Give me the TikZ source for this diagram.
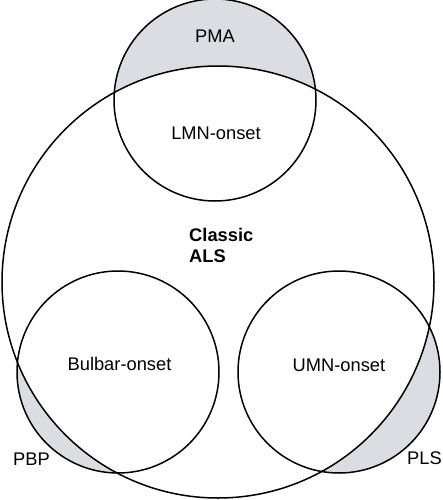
\documentclass[tikz,border=0pt]{standalone}
\usepackage{fontspec}
\setmainfont{Liberation Sans}
\definecolor{venngray}{RGB}{220,221,226}
\begin{document}
\begin{tikzpicture}[x=1pt,y=-1pt,
  ring/.style={draw=black,line width=1.5pt},
  lbl/.style={font=\fontsize{18.3}{21}\selectfont,inner sep=0pt,anchor=base},
  boldlbl/.style={font=\fontsize{18.3}{21}\selectfont\bfseries,inner sep=0pt,align=left}]
\useasboundingbox (0,0) rectangle (443,500);
\coordinate (cBig) at (218,282);
\coordinate (cTop) at (215,100);
\coordinate (cLeft) at (118,372);
\coordinate (cRight) at (339,372);
% shaded parts of small circles outside the big circle
\foreach \c in {cTop,cLeft,cRight}{
  \begin{scope}
    \clip (\c) circle (101);
    \fill[venngray,even odd rule] (-20,-20) rectangle (470,520) (cBig) circle (216);
  \end{scope}
}
\draw[ring] (cBig) circle (216);
\draw[ring] (cTop) circle (101);
\draw[ring] (cLeft) circle (101);
\draw[ring] (cRight) circle (101);
\node[lbl] (pma) at (215,43) {PMA};
\node[lbl] (lmn) at (216,139.5) {LMN-onset};
\node[boldlbl,anchor=base west] (als) at (189,262.7) {Classic\\ALS};
\node[lbl] (bulbar) at (119.5,370.7) {Bulbar-onset};
\node[lbl] (umn) at (339,371) {UMN-onset};
\node[lbl,anchor=base west] (pbp) at (13,465) {PBP};
\node[lbl,anchor=base east] (pls) at (442,464) {PLS};
\end{tikzpicture}
\end{document}
